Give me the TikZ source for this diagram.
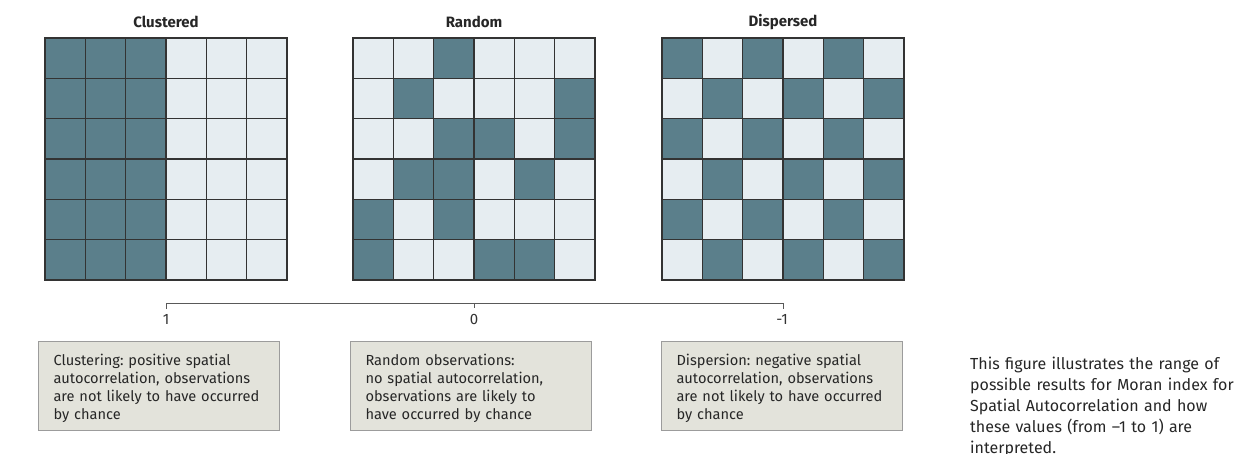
\documentclass[tikz,border=0pt]{standalone}
\usepackage{fontspec}
\setmainfont{Fira Sans}
\frenchspacing
\definecolor{cellDark}{HTML}{5B7F8B}
\definecolor{cellLight}{HTML}{E6EDF1}
\definecolor{noteFill}{HTML}{E3E3DB}
\definecolor{noteEdge}{HTML}{9C9C9C}
\definecolor{lineGray}{HTML}{333333}
\begin{document}
\begin{tikzpicture}[x=1pt, y=-1pt,
  title/.style={font=\fontsize{15}{17}\selectfont\bfseries, text=black!85},
  gridline/.style={draw=lineGray, line width=1.2pt, line cap=rect},
  axis/.style={draw=black!65, line width=1pt},
  ticklabel/.style={font=\fontsize{15}{17}\selectfont, text=black!80},
  note/.style={draw=noteEdge, fill=noteFill, line width=1pt, anchor=north west,
               align=left, text width=211pt, inner xsep=15pt, inner ysep=7pt,
               text height=17pt, text depth=58pt,
               font=\fontsize{14.6}{18}\selectfont, text=black!85},
  caption/.style={anchor=base west, align=left, text width=275pt, inner sep=0pt,
                  font=\fontsize{16}{21}\selectfont, text=black!85}
]
  \useasboundingbox (0,0) rectangle (1242,453);
  \def\cs{40.333}

  % titles
  \node[title] (tclu) at (166,22) {Clustered};
  \node[title] (tran) at (474,22) {Random};
  \node[title] (tdis) at (783,22) {Dispersed};

  % cells
  \fill[cellLight] (45,38) rectangle (287,280);
  \fill[cellDark] (45,38) rectangle (166,280);
  \fill[cellLight] (353,38) rectangle (595,280);
  \foreach \c/\r in {3/1,2/2,6/2,3/3,4/3,6/3,2/4,3/4,5/4,1/5,3/5,1/6,4/6,5/6}
    \fill[cellDark] ({353+(\c-1)*\cs},{38+(\r-1)*\cs}) rectangle ++(\cs,\cs);
  \fill[cellLight] (662,38) rectangle (904,280);
  \foreach \r in {1,...,6}
    \foreach \c in {1,...,6}{
      \pgfmathparse{int(mod(\c+\r,2))}
      \ifnum\pgfmathresult=0
        \fill[cellDark] ({662+(\c-1)*\cs},{38+(\r-1)*\cs}) rectangle ++(\cs,\cs);
      \fi
    }
  \foreach \gx in {45,353,662}
    \foreach \i in {0,...,6}{
      \draw[gridline] ({\gx+\i*\cs},38) -- ({\gx+\i*\cs},280);
      \draw[gridline] (\gx,{38+\i*\cs}) -- ({\gx+242},{38+\i*\cs});
    }

  % axis
  \coordinate (ax1) at (166,303);
  \coordinate (ax0) at (474,303);
  \coordinate (axm) at (783,303);
  \draw[axis] ([yshift=-6pt]ax1) -- (ax1) -- (axm) -- ([yshift=-6pt]axm);
  \draw[axis] (ax0) -- ([yshift=-5pt]ax0);
  \node[ticklabel] (l1) at (166,319) {1};
  \node[ticklabel] (l0) at (474,319) {0};
  \node[ticklabel] (lm) at (782,319) {-1};

  % notes
  \node[note] (nclu) at (38,341)
    {Clustering: positive spatial\\autocorrelation, observations\\are not likely to have occurred\\by chance};
  \node[note] (nran) at (350,341)
    {Random observations:\\no spatial autocorrelation,\\observations are likely to\\have occurred by chance};
  \node[note] (ndis) at (661,341)
    {Dispersion: negative spatial\\autocorrelation, observations\\are not likely to have occurred\\by chance};

  \node[caption] (cap) at (970,369)
    {This figure illustrates the range of\\possible results for Moran index for\\Spatial Autocorrelation and how\\these values (from –1 to 1) are\\interpreted.};
\end{tikzpicture}
\end{document}
